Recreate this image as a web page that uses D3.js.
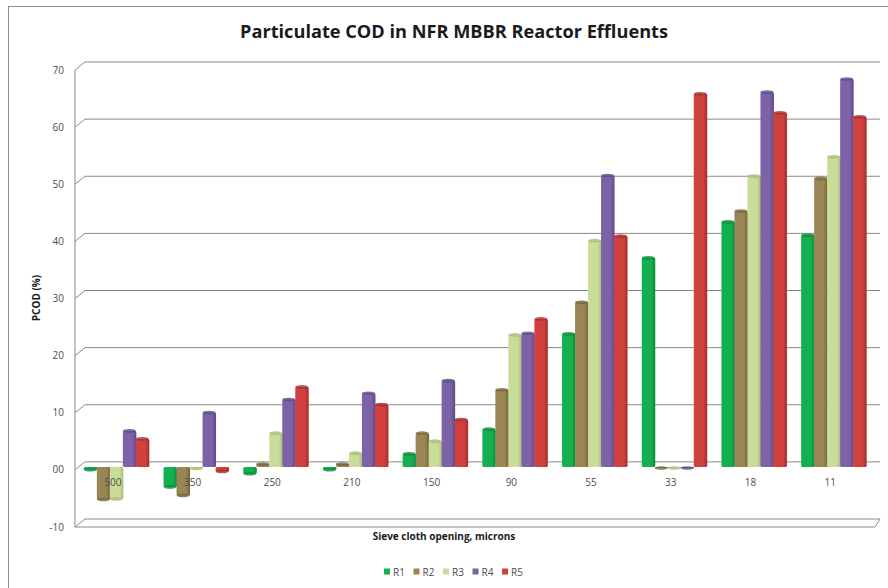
<!DOCTYPE html>
<html>
<head>
<meta charset="utf-8">
<script src="https://cdn.jsdelivr.net/npm/d3@7"></script>
<style>
  body { margin: 0; background: #fff; }
  text { font-family: "Open Sans", "Liberation Sans", sans-serif; }
</style>
</head>
<body>
<div id="chart"></div>
<script>
const openings = ["500", "350", "250", "210", "150", "90", "55", "33", "18", "11"];
const seriesNames = ["R1", "R2", "R3", "R4", "R5"];
const R1 = [-0.5, -3.5, -1.2, -0.5, 2.3, 6.6, 23.3, 36.6, 42.9, 40.6];
const R2 = [-5.7, -5.0, 0.5, 0.5, 5.9, 13.5, 28.8, -0.2, 44.8, 50.5];
const R3 = [-5.6, -0.3, 5.9, 2.4, 4.5, 23.1, 39.6, -0.2, 50.9, 54.3];
const R4 = [6.3, 9.5, 11.8, 12.9, 15.1, 23.4, 51.0, -0.2, 65.6, 67.9];
const R5 = [4.9, -0.8, 14.0, 10.9, 8.3, 25.9, 40.4, 65.3, 62.0, 61.3];
const yTicks = [-10, 0, 10, 20, 30, 40, 50, 60, 70];
const tickText = ["-10", "00", "10", "20", "30", "40", "50", "60", "70"];

const colors = ["#13b04f", "#9a8654", "#c9dc9a", "#7d62a8", "#d0413e"];
const dark   = ["#0b8a3a", "#74653c", "#a9bd78", "#5f4888", "#a52d2a"];

const width = 888, height = 588;
const allSeries = [R1, R2, R3, R4, R5];

const svg = d3.select("#chart")
    .append("svg")
    .attr("width", width)
    .attr("height", height);

// chart frame
svg.append("rect")
    .attr("x", 8.5).attr("y", 6.5)
    .attr("width", 900).attr("height", 600)
    .attr("fill", "#fff")
    .attr("stroke", "#8c8c8c");

const axisX = 75, wallX = 85, rightX = 880, depth = 8;

let y = d3.scaleLinear()
    .domain([-10, 70])
    .range([527, 70]);

let x = d3.scaleBand()
    .domain(openings)
    .range([73, 870]);

let xs = d3.scaleBand()
    .domain(seriesNames)
    .range([-29, 36]);

// gridlines on the back wall with 3d slant at the left
svg.append("g")
    .selectAll("path")
    .data(yTicks)
    .join("path")
    .attr("d", d => `M${axisX},${y(d)} L${wallX},${y(d) - depth} L${rightX},${y(d) - depth}`)
    .attr("fill", "none")
    .attr("stroke", "#8a8a8a")
    .attr("stroke-width", 1);

// front floor edge
svg.append("path")
    .attr("d", `M${axisX},${y(-10)} L${rightX - 5},${y(-10)} L${rightX},${y(-10) - depth}`)
    .attr("fill", "none")
    .attr("stroke", "#8a8a8a");

// vertical axis
svg.append("line")
    .attr("x1", axisX).attr("x2", axisX)
    .attr("y1", y(70)).attr("y2", y(-10))
    .attr("stroke", "#8a8a8a");

// tick labels
svg.append("g")
    .selectAll("text")
    .data(yTicks)
    .join("text")
    .attr("x", 64)
    .attr("y", d => y(d))
    .attr("dy", "0.35em")
    .attr("text-anchor", "end")
    .attr("font-size", 10)
    .attr("fill", "#4d4d4d")
    .text((d, i) => tickText[i]);

// gradients for bars
const defs = svg.append("defs");
colors.forEach((c, i) => {
    const g = defs.append("linearGradient")
        .attr("id", "grad" + i)
        .attr("x1", "0%").attr("x2", "100%");
    g.append("stop").attr("offset", "0%").attr("stop-color", c);
    g.append("stop").attr("offset", "70%").attr("stop-color", c);
    g.append("stop").attr("offset", "100%").attr("stop-color", dark[i]);
});

// bars
const yb = v => y(v) - 3;
const bw = xs.bandwidth();

openings.forEach((cat, ci) => {
    const grp = svg.append("g");
    seriesNames.forEach((s, si) => {
        const v = allSeries[si][ci];
        const x0 = x(cat) + x.bandwidth() / 2 + xs(s);
        const top = Math.min(yb(v), yb(0));
        const h = Math.max(Math.abs(yb(v) - yb(0)), 1);
        grp.append("rect")
            .attr("x", x0)
            .attr("y", top)
            .attr("width", bw + 0.5)
            .attr("height", h)
            .attr("rx", 1.5)
            .attr("fill", `url(#grad${si})`);
        // top cap
        grp.append("ellipse")
            .attr("cx", x0 + bw / 2)
            .attr("cy", yb(v))
            .attr("rx", bw / 2)
            .attr("ry", 1.8)
            .attr("fill", dark[si])
            .attr("opacity", 0.8);
    });
});

// category labels
svg.append("g")
    .selectAll("text")
    .data(openings)
    .join("text")
    .attr("x", d => x(d) + x.bandwidth() / 2)
    .attr("y", 486)
    .attr("text-anchor", "middle")
    .attr("font-size", 10)
    .attr("fill", "#4d4d4d")
    .text(d => d);

// title
svg.append("text")
    .attr("x", 454)
    .attr("y", 38)
    .attr("text-anchor", "middle")
    .attr("font-size", 17)
    .attr("font-weight", "bold")
    .attr("fill", "#1a1a1a")
    .attr("textLength", 428)
    .attr("lengthAdjust", "spacingAndGlyphs")
    .text("Particulate COD in NFR MBBR Reactor Effluents");

// axis titles
svg.append("text")
    .attr("transform", "translate(40,298) rotate(-90)")
    .attr("text-anchor", "middle")
    .attr("font-size", 10)
    .attr("font-weight", "bold")
    .attr("fill", "#1a1a1a")
    .text("PCOD (%)");

svg.append("text")
    .attr("x", 444)
    .attr("y", 540)
    .attr("text-anchor", "middle")
    .attr("font-size", 10)
    .attr("font-weight", "bold")
    .attr("fill", "#1a1a1a")
    .text("Sieve cloth opening, microns");

// legend
let legend = svg.append("g")
    .selectAll("g")
    .data(seriesNames)
    .join("g")
    .attr("transform", (d, i) => `translate(${384 + i * 29.5},572)`);

legend.append("rect")
    .attr("x", 0).attr("y", -3.5)
    .attr("width", 6).attr("height", 6)
    .attr("fill", (d, i) => colors[i]);

legend.append("text")
    .attr("x", 9)
    .attr("dy", "0.35em")
    .attr("font-size", 10)
    .attr("fill", "#4d4d4d")
    .text(d => d);
</script>
</body>
</html>
